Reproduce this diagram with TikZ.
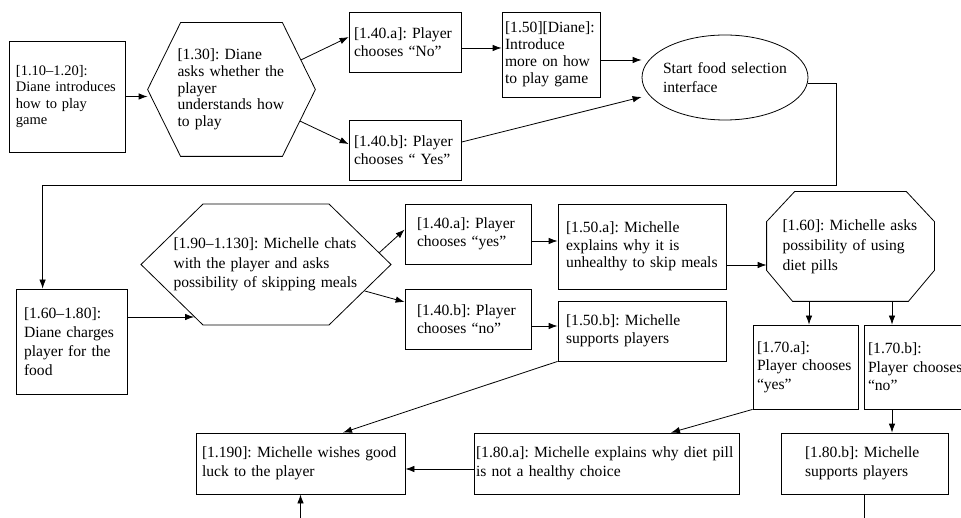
\documentclass[tikz,border=0pt]{standalone}
\usepackage{fontspec}
\setmainfont{Liberation Serif}
\frenchspacing
\usetikzlibrary{shapes.symbols, shapes.geometric, arrows.meta, positioning}
\newcommand{\linesp}[1]{\fontsize{15.6}{#1}\selectfont}
\tikzset{
    ->,
    >={Latex[length=9pt,width=6.5pt]},
    box/.style n args={3}{draw, rectangle, align=left, text width=#1, inner xsep=#2, inner ysep=0pt, minimum height=#3},
    talk/.style n args={3}{draw, signal, signal to=east and west, signal pointer angle=#1, align=left, text width=#2, inner xsep=#3, inner ysep=0pt},
    start/.style={draw, ellipse, align=left},
}

\begin{document}
\begin{tikzpicture}[x=1pt, y=-1pt, line width=0.8pt, every node/.style={font=\linesp{18.5}}]
\useasboundingbox (0,0) rectangle (961,518);
\clip[-] (0,0) rectangle (961,518);

% Diane
\node[box={102pt}{7pt}{111pt}, font=\fontsize{14.5}{16.3}\selectfont] (d110) at (67,96.5) {[1.10–1.20]:\\Diane introduces\\how to play\\game};
\node[align=left, text width=108pt, inner xsep=-3pt, inner ysep=0pt, minimum width=167pt, minimum height=133pt, font=\linesp{16.7}] (d130) at (231.5,89.5) {[1.30]: Diane\\asks whether the\\player\\understands how\\to play};
\draw[-] (d130.west) -- ([xshift=33pt]d130.north west) -- ([xshift=-33pt]d130.north east) -- (d130.east)
      -- ([xshift=-33pt]d130.south east) -- ([xshift=33pt]d130.south west) -- cycle;
\node[box={102pt}{5pt}{60pt}] (d140a) at (405,42) {[1.40.a]: Player\\chooses “No”};
\node[box={102pt}{5pt}{60pt}] (d140b) at (405,150) {[1.40.b]: Player\\chooses “ Yes”};
\node[box={92pt}{3pt}{85pt}, font=\linesp{17}] (d150) at (551,54.5) {[1.50][Diane]:\\Introduce\\more on how\\to play game};
\node[start, text width=124pt, inner xsep=-4pt, minimum width=166pt, minimum height=85pt] (sel) at (725,77.5) {Start food selection\\interface};

% Michelle
\node[box={95pt}{8pt}{105pt}, font=\linesp{19}] (m160) at (71.5,341.5) {[1.60–1.80]:\\Diane charges\\player for the\\food};
\node[talk={88.6}{185pt}{-30pt}, minimum height=121pt, minimum width=250pt, font=\linesp{19.7}] (chat) at (266,264.5) {[1.90–1.130]: Michelle chats\\with the player and asks\\possibility of skipping meals};
\node[box={102pt}{12pt}{60pt}] (m140a) at (468,234) {[1.40.a]: Player\\chooses “yes”};
\node[box={102pt}{12pt}{60pt}] (m140b) at (468,319) {[1.40.b]: Player\\chooses “no”};
\node[box={152pt}{8pt}{85pt}, font=\linesp{17.3}] (m150a) at (642,246.5) {[1.50.a]: Michelle\\explains why it is\\unhealthy to skip meals};
\node[box={152pt}{8pt}{60pt}] (m150b) at (642,331) {[1.50.b]: Michelle\\supports players};
\node[align=left, text width=136pt, inner xsep=15.5pt, inner ysep=0pt, minimum height=109pt, font=\linesp{20}] (pills) at (850.5,246.5) {[1.60]: Michelle asks\\possibility of using\\diet pills};
\draw[-] ([xshift=28pt]pills.north west) -- ([xshift=-28pt]pills.north east) -- ([yshift=-30pt]pills.north east)
      -- ([yshift=31pt]pills.south east) -- ([xshift=-26pt]pills.south east) -- ([xshift=26pt]pills.south west)
      -- ([yshift=31pt]pills.south west) -- ([yshift=-30pt]pills.north west) -- cycle;
\node[box={97pt}{4pt}{84pt}] (m170a) at (805.5,367) {[1.70.a]:\\Player chooses\\“yes”};
\node[box={97pt}{4pt}{84pt}] (m170b) at (916.5,367) {[1.70.b]:\\Player chooses\\“no”};
\node[box={261pt}{2pt}{61pt}, font=\linesp{19}] (m180a) at (606.5,463.5) {[1.80.a]: Michelle explains why diet pill\\is not a healthy choice};
\node[box={119pt}{24pt}{61pt}, font=\linesp{19}] (m180b) at (864.5,463.5) {[1.80.b]: Michelle\\supports players};
\node[box={197pt}{6pt}{61pt}, font=\linesp{19}] (m190) at (300.5,463.5) {[1.190]: Michelle wishes good\\luck to the player};
\coordinate (endb) at (864.5,530);
\coordinate (endc) at (300.5,530);

\draw (d110.east) -- (d110.east -| d130.west);
\draw ([xshift=-14.6pt,yshift=29.5pt]d130.east) -- (d140a.175);
\draw ([xshift=-15.6pt,yshift=-31.5pt]d130.east) -- (d140b.174);
\draw ([yshift=-6pt]d140a.east) -- ([yshift=-6pt]d140a.east -| d150.west);
\draw ([yshift=-5.5pt]d150.east) -- ([yshift=-5.5pt]d150.east -| sel.west);
\draw (d140b.8) -- ([yshift=-19.5pt]sel.west);
\draw (sel.-4.5) -- ++(29,0) -- ++(0,102) -| ([xshift=27pt]m160.north west);

\draw ([yshift=24.5pt]m160.east) -- ([yshift=24.5pt]m160.east -| chat.216);
\draw (chat.6) -- (m140a.176);
\draw (chat.-15) -- (m140b.165);
\draw ([yshift=-7pt]m140a.east) -- ([yshift=-7pt]m140a.east -| m150a.west);
\draw ([yshift=-7pt]m140b.east) -- ([yshift=-7pt]m140b.east -| m150b.west);
\draw ([yshift=-18.5pt]m150a.east) -- ([yshift=-18.5pt]m150a.east -| pills.west);
\draw ([xshift=-41.5pt]pills.south) -- ([xshift=-41.5pt]pills.south |- m170a.north);
\draw ([xshift=41.5pt]pills.south) -- ([xshift=41.5pt]pills.south |- m170b.north);
\draw (m170a.south west) -- ([xshift=64.5pt]m180a.north);
\draw ([xshift=-24.5pt]m170b.south) -- ([xshift=-24.5pt]m170b.south |- m180b.north);
\draw (m150b.south west) -- ([xshift=42.5pt]m190.north);
\draw ([yshift=-5.5pt]m180a.west) -- ([yshift=-5.5pt]m180a.west -| m190.east);
\draw[-] (m180b) -- (endb);
\draw (endc) -- (m190);
\end{tikzpicture}
\end{document}
